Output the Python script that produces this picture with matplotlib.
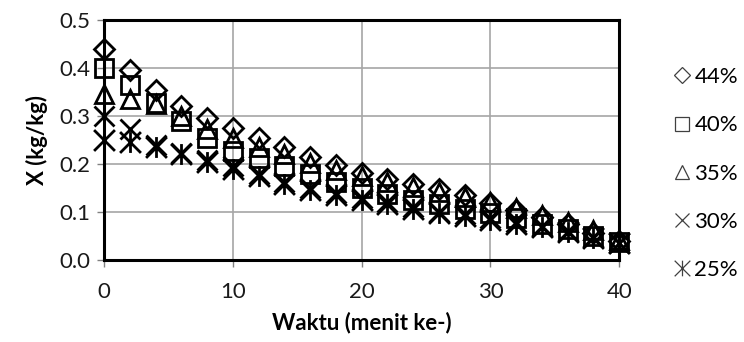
import matplotlib
matplotlib.use("Agg")
import matplotlib.pyplot as plt
from matplotlib.path import Path
from matplotlib.lines import Line2D

plt.rcParams['font.family'] = ['Lato', 'DejaVu Sans']

# Drying time (minutes) and moisture content X (kg/kg) for each initial moisture level
waktu = [0, 2, 4, 6, 8, 10, 12, 14, 16, 18, 20, 22, 24, 26, 28, 30, 32, 34, 36, 38, 40]
x_44 = [0.44, 0.395, 0.355, 0.32, 0.295, 0.275, 0.255, 0.235, 0.215, 0.198, 0.182,
        0.168, 0.158, 0.148, 0.135, 0.118, 0.105, 0.09, 0.074, 0.057, 0.04]
x_40 = [0.40, 0.365, 0.328, 0.29, 0.254, 0.228, 0.212, 0.196, 0.179, 0.163, 0.151,
        0.138, 0.126, 0.117, 0.107, 0.097, 0.087, 0.076, 0.064, 0.05, 0.038]
x_35 = [0.345, 0.335, 0.325, 0.30, 0.272, 0.255, 0.235, 0.22, 0.202, 0.188, 0.174,
        0.163, 0.152, 0.142, 0.132, 0.12, 0.108, 0.094, 0.079, 0.062, 0.042]
x_30 = [0.30, 0.273, 0.24, 0.222, 0.208, 0.195, 0.179, 0.162, 0.149, 0.139, 0.129,
        0.12, 0.11, 0.101, 0.096, 0.088, 0.079, 0.07, 0.06, 0.047, 0.036]
x_25 = [0.25, 0.245, 0.235, 0.22, 0.205, 0.19, 0.175, 0.158, 0.145, 0.135, 0.125,
        0.116, 0.106, 0.098, 0.091, 0.084, 0.076, 0.068, 0.058, 0.045, 0.035]
labels = ['44%', '40%', '35%', '30%', '25%']
x_ticks = [0, 10, 20, 30, 40]
y_ticks = [0.0, 0.1, 0.2, 0.3, 0.4, 0.5]

# asterisk: an X with a vertical bar
star = Path([(-0.5, -0.5), (0.5, 0.5), (-0.5, 0.5), (0.5, -0.5), (0, -0.5), (0, 0.5)],
            [Path.MOVETO, Path.LINETO, Path.MOVETO, Path.LINETO, Path.MOVETO, Path.LINETO])

styles = [
    dict(marker='D', ms=10.5),
    dict(marker='s', ms=13),
    dict(marker='^', ms=12.5),
    dict(marker='x', ms=14),
    dict(marker=star, ms=15),
]
series = [x_44, x_40, x_35, x_30, x_25]

fig = plt.figure(figsize=(7.44, 3.42), dpi=100)
ax = fig.add_axes([0.1398, 0.2398, 0.6925, 0.7017])

for vals, st in zip(series, styles):
    ax.plot(waktu, vals, linestyle='none', marker=st['marker'], ms=st['ms'],
            mfc='none', mec='black', mew=2.0, clip_on=False, zorder=3)

ax.set_xlim(0, 40)
ax.set_ylim(0, 0.5)
ax.set_xticks(x_ticks)
ax.set_yticks(y_ticks)
ax.set_yticklabels([f'{v:.1f}' for v in y_ticks])
ax.grid(True, color='#a6a6a6', lw=1.2)
ax.set_axisbelow(True)
for s in ax.spines.values():
    s.set_color('black')
    s.set_linewidth(2.2)
ax.tick_params(axis='both', direction='out', length=5, width=1, color='#808080',
               labelsize=16, labelcolor='#1a1a1a')
ax.tick_params(axis='x', pad=11)
ax.tick_params(axis='y', pad=5)
ax.set_xlabel('Waktu (menit ke-)', fontsize=16, fontweight='bold', labelpad=7)
ax.set_ylabel('X (kg/kg)', fontsize=16, fontweight='bold', labelpad=8)

handles = [Line2D([], [], linestyle='none', marker=st['marker'],
                  ms=st['ms'] * 0.75, mfc='none', mec='#404040', mew=0.9)
           for st in styles]
fig.legend(handles, labels, loc='upper left', bbox_to_anchor=(0.893, 0.836),
           frameon=False, fontsize=16, handlelength=0.6, handletextpad=0.25,
           labelspacing=1.27, borderpad=0)

fig.savefig('out.png', dpi=100)
